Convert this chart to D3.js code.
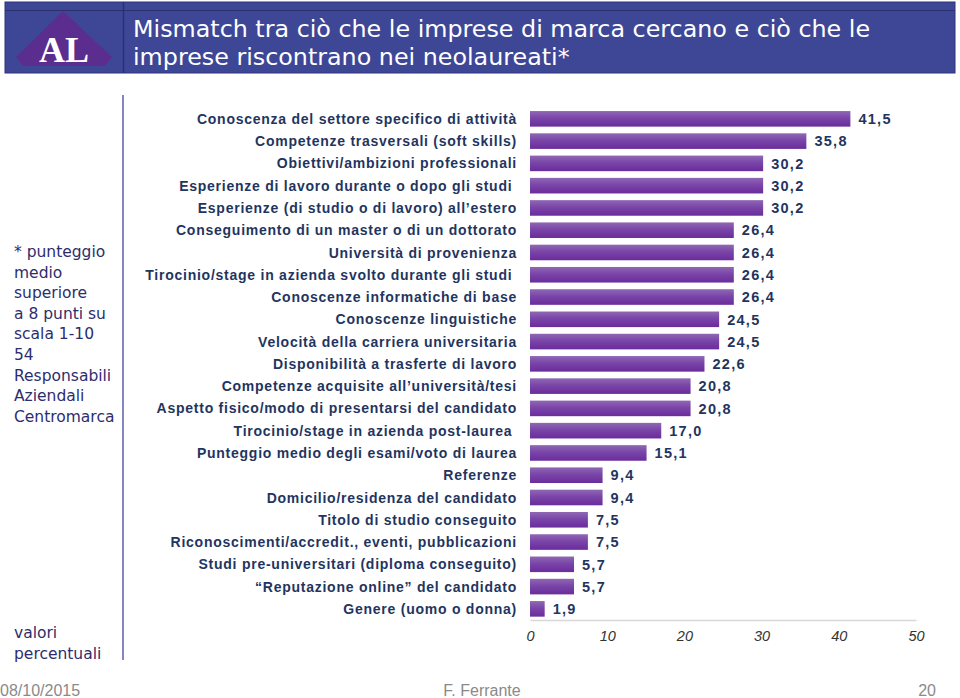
<!DOCTYPE html>
<html><head><meta charset="utf-8">
<script src="https://cdn.jsdelivr.net/npm/d3@7"></script>
<style>body{margin:0;background:#fff}svg{display:block}</style>
</head><body>
<script>
const categories = [
 "Conoscenza del settore specifico di attività",
 "Competenze trasversali (soft skills)",
 "Obiettivi/ambizioni professionali",
 "Esperienze di lavoro durante o dopo gli studi\u00a0",
 "Esperienze (di studio o di lavoro) all’estero",
 "Conseguimento di un master o di un dottorato",
 "Università di provenienza",
 "Tirocinio/stage in azienda svolto durante gli studi\u00a0",
 "Conoscenze informatiche di base",
 "Conoscenze linguistiche",
 "Velocità della carriera universitaria",
 "Disponibilità a trasferte di lavoro",
 "Competenze acquisite all’università/tesi",
 "Aspetto fisico/modo di presentarsi del candidato",
 "Tirocinio/stage in azienda post-laurea\u00a0",
 "Punteggio medio degli esami/voto di laurea",
 "Referenze",
 "Domicilio/residenza del candidato",
 "Titolo di studio conseguito",
 "Riconoscimenti/accredit., eventi, pubblicazioni",
 "Studi pre-universitari (diploma conseguito)",
 "“Reputazione online” del candidato",
 "Genere (uomo o donna)"
];
const values = [41.5,35.8,30.2,30.2,30.2,26.4,26.4,26.4,26.4,24.5,24.5,22.6,20.8,20.8,17.0,15.1,9.4,9.4,7.5,7.5,5.7,5.7,1.9];
const xTicks = [0,10,20,30,40,50];
const titleLines = ["Mismatch tra ciò che le imprese di marca cercano e ciò che le","imprese riscontrano nei neolaureati*"];
const noteLines = ["* punteggio","medio","superiore","a 8 punti su","scala 1-10","54","Responsabili","Aziendali","Centromarca"];
const unitLines = ["valori","percentuali"];
const footer = {left:"08/10/2015", center:"F. Ferrante", right:"20"};

const W=960,H=698;
const svg=d3.select("body").append("svg").attr("width",W).attr("height",H);
const defs=svg.append("defs");
const g1=defs.append("linearGradient").attr("id","barg").attr("x1",0).attr("y1",0).attr("x2",0).attr("y2",1);
g1.append("stop").attr("offset","0%").attr("stop-color","#8f68b4");
g1.append("stop").attr("offset","45%").attr("stop-color","#7a45a8");
g1.append("stop").attr("offset","100%").attr("stop-color","#6a2c9c");

// header
svg.append("rect").attr("x",5).attr("y",2).attr("width",950).attr("height",71).attr("fill","#3e4796").attr("stroke","#2e3578").attr("stroke-width",1);
svg.append("line").attr("x1",5).attr("x2",955).attr("y1",10.5).attr("y2",10.5).attr("stroke","#2a3070").attr("stroke-width",1);
svg.append("line").attr("x1",123.5).attr("x2",123.5).attr("y1",2).attr("y2",73).attr("stroke","#2a3070").attr("stroke-width",1.5);
svg.append("polygon").attr("points","63,11 112,57 105,66 23,66 16,57").attr("fill","#5b2d8e");
svg.append("text").attr("x",64).attr("y",62).attr("text-anchor","middle").attr("fill","#fff")
  .attr("font-family","Liberation Serif, serif").attr("font-weight","bold").attr("font-size",36).text("AL");
svg.append("g").selectAll("text").data(titleLines).join("text")
  .attr("x",133).attr("y",(d,i)=>37+i*28).attr("fill","#fff")
  .attr("font-family","DejaVu Sans, sans-serif").attr("font-size",23.8).text(d=>d);

// left panel
svg.append("line").attr("x1",123).attr("x2",123).attr("y1",95).attr("y2",660).attr("stroke","#8585c4").attr("stroke-width",2);
svg.append("g").selectAll("text").data(noteLines).join("text")
  .attr("x",14).attr("y",(d,i)=>257+i*20.6).attr("fill","#2d2d6e")
  .attr("font-family","DejaVu Sans, sans-serif").attr("font-size",15.5).text(d=>d);
svg.append("g").selectAll("text").data(unitLines).join("text")
  .attr("x",14).attr("y",(d,i)=>638+i*21).attr("fill","#2d2d6e")
  .attr("font-family","DejaVu Sans, sans-serif").attr("font-size",15.5).text(d=>d);

// chart
const x=d3.scaleLinear().domain([0,50]).range([530,916]);
const y=d3.scaleBand().domain(categories).range([107.7,620]).paddingInner(0.3).paddingOuter(0.15);
const chart=svg.append("g");
chart.selectAll("rect.bar").data(values).join("rect").attr("class","bar")
  .attr("x",x(0)).attr("y",(d,i)=>y(categories[i])).attr("width",d=>x(d)-x(0)).attr("height",y.bandwidth())
  .attr("fill","url(#barg)");
const fmt=d=>d3.format(".1f")(d).replace(".",",");
chart.selectAll("text.val").data(values).join("text").attr("class","val")
  .attr("x",d=>x(d)+8).attr("y",(d,i)=>y(categories[i])+y.bandwidth()/2).attr("dy","0.36em")
  .attr("fill","#1f3560").attr("font-family","Liberation Sans, Arial, sans-serif").attr("font-weight","bold")
  .attr("font-size",14.5).attr("letter-spacing",1.3).text(fmt);
chart.selectAll("text.cat").data(categories).join("text").attr("class","cat")
  .attr("x",517).attr("y",d=>y(d)+y.bandwidth()/2).attr("dy","0.36em").attr("text-anchor","end")
  .attr("fill","#1f3560").attr("font-family","Liberation Sans, Arial, sans-serif").attr("font-weight","bold")
  .attr("font-size",14).attr("letter-spacing",0.75).style("white-space","pre").text(d=>d);

const axis=d3.axisBottom(x).tickValues(xTicks).tickSize(0).tickPadding(11).tickFormat(d=>d);
const ag=svg.append("g").attr("transform","translate(0,620)").call(axis);
ag.select(".domain").attr("stroke","#d8d8d8").attr("stroke-width",1.5);
ag.selectAll("text").attr("font-family","Liberation Sans, Arial, sans-serif").attr("font-style","italic")
  .attr("font-size",14.5).attr("fill","#333");

// footer
const ff="Liberation Sans Narrow, Arial Narrow, Liberation Sans, sans-serif";
svg.append("text").attr("x",0).attr("y",696).attr("fill","#8a8a8a").attr("font-family",ff).attr("font-size",16).text(footer.left);
svg.append("text").attr("x",482).attr("y",696).attr("text-anchor","middle").attr("fill","#8a8a8a").attr("font-family",ff).attr("font-size",16).text(footer.center);
svg.append("text").attr("x",936).attr("y",696).attr("text-anchor","end").attr("fill","#8a8a8a").attr("font-family",ff).attr("font-size",16).text(footer.right);
</script>
</body></html>
